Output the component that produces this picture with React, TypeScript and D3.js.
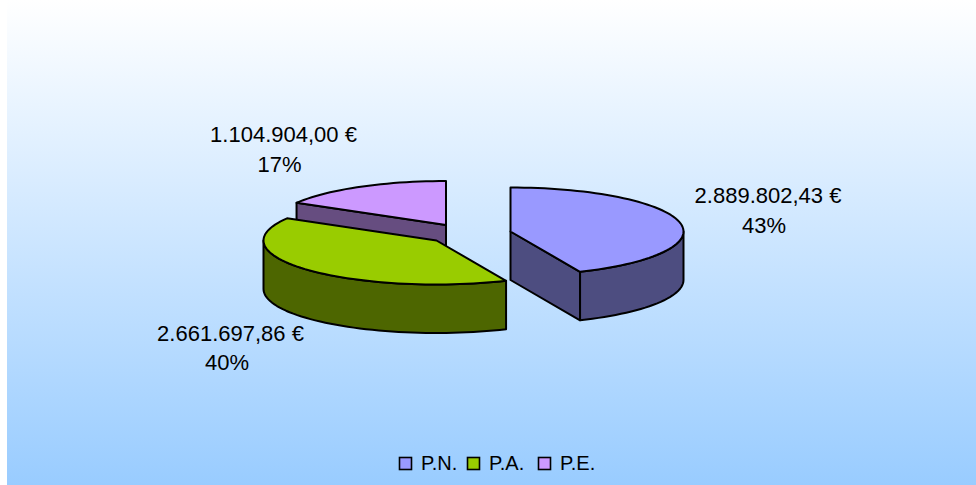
import React from "react";
import * as d3 from "d3";

const categories = ["P.N.", "P.A.", "P.E."];
const values = [2889802.43, 2661697.86, 1104904.0];
const valueLabels = ["2.889.802,43 €", "2.661.697,86 €", "1.104.904,00 €"];
const percentLabels = ["43%", "40%", "17%"];
const topColors = ["#9999FF", "#99CC00", "#CC99FF"];
const wallColors = ["#4D4D80", "#4D6600", "#664D80"];

const W = 976, H = 485;
const RX = 173, RY = 44, DEPTH = 48.5;
const centers: [number, number][] = [[510.5, 231.5], [436.5, 240.5], [446, 225]];
const labelPos: [number, number][] = [[768, 203], [230.5, 341], [283.5, 142]];
const pctPos: [number, number][] = [[764, 233], [227, 370], [279.5, 172]];
const legendSwatchX = [399, 467, 538];
const legendTextX = [421, 489, 560];
const drawOrder = [2, 1, 0];
const FONT = "'Liberation Sans', Arial, sans-serif";

const arcs = d3.pie<number>().sort(null).startAngle(0).endAngle(2 * Math.PI)(values);
const line = d3.line();

function pt(c: [number, number], a: number, dz = 0): [number, number] {
  return [c[0] + RX * Math.sin(a), c[1] - RY * Math.cos(a) + dz];
}
function arcPts(c: [number, number], a0: number, a1: number, dz = 0) {
  const n = Math.max(2, Math.ceil((a1 - a0) / 0.04));
  return d3.range(n + 1).map((i) => pt(c, a0 + ((a1 - a0) * i) / n, dz));
}

function Slice({ i }: { i: number }) {
  const c = centers[i];
  const a0 = arcs[i].startAngle, a1 = arcs[i].endAngle;
  const faces: [number, number][][] = [];
  const eps = 1e-6;
  for (const [a, vis] of [[a0, Math.sin(a0) < -eps], [a1, Math.sin(a1) > eps]] as [number, boolean][]) {
    if (vis) {
      const e = pt(c, a);
      faces.push([c, e, [e[0], e[1] + DEPTH], [c[0], c[1] + DEPTH]]);
    }
  }
  const w0 = Math.max(a0, Math.PI / 2), w1 = Math.min(a1, (3 * Math.PI) / 2);
  const wall = w1 > w0 ? [...arcPts(c, w0, w1), ...arcPts(c, w0, w1, DEPTH).reverse()] : null;
  const top = [c, ...arcPts(c, a0, a1)];
  const common = { stroke: "#000", strokeWidth: 2, strokeLinejoin: "round" as const };
  return (
    <g>
      {faces.map((f, k) => (
        <path key={k} d={line(f) + "Z"} fill={wallColors[i]} {...common} />
      ))}
      {wall && <path d={line(wall) + "Z"} fill={wallColors[i]} {...common} />}
      <path d={line(top) + "Z"} fill={topColors[i]} {...common} />
    </g>
  );
}

export default function App() {
  return (
    <svg width={W} height={H} style={{ position: "fixed", left: 0, top: 0, display: "block" }}>
      <defs>
        <linearGradient id="bg" x1="0" y1="0" x2="0" y2="1">
          <stop offset="0" stopColor="#FFFFFF" />
          <stop offset="1" stopColor="#99CCFF" />
        </linearGradient>
      </defs>
      <rect x={0} y={0} width={W} height={H} fill="#fff" />
      <rect x={7} y={0} width={W - 7} height={H} fill="url(#bg)" />
      {drawOrder.map((i) => (
        <Slice key={i} i={i} />
      ))}
      <g fontFamily={FONT} fontSize={22} fill="#000" textAnchor="middle">
        {categories.map((_, i) => (
          <g key={i}>
            <text x={labelPos[i][0]} y={labelPos[i][1]}>{valueLabels[i]}</text>
            <text x={pctPos[i][0]} y={pctPos[i][1]}>{percentLabels[i]}</text>
          </g>
        ))}
      </g>
      <g fontFamily={FONT} fontSize={20} fill="#000">
        {categories.map((cat, i) => (
          <g key={cat}>
            <rect x={legendSwatchX[i] + 0.5} y={457.5} width={12} height={12} fill={topColors[i]} stroke="#000" strokeWidth={1.6} />
            <text x={legendTextX[i]} y={469.5}>{cat}</text>
          </g>
        ))}
      </g>
    </svg>
  );
}
